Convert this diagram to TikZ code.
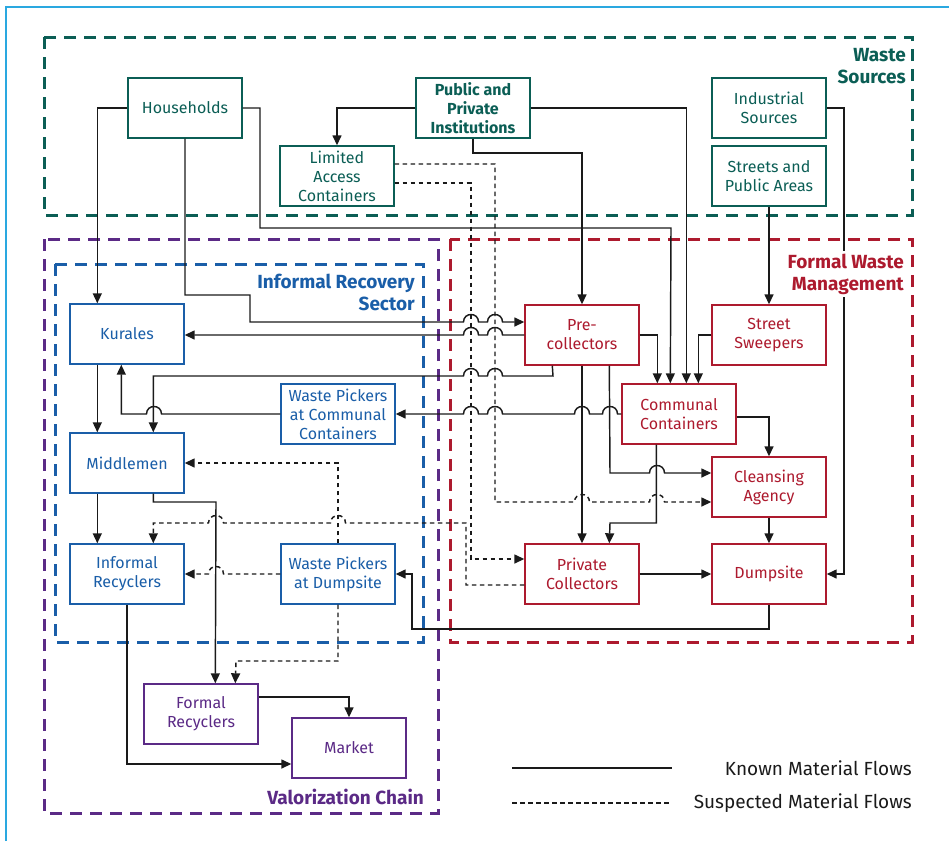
\documentclass[tikz,border=0pt]{standalone}
\usepackage{fontspec}
\setmainfont{Fira Sans}
\usetikzlibrary{arrows.meta,calc}
\definecolor{wteal}{HTML}{0B5E55}
\definecolor{wblue}{HTML}{1A5EA8}
\definecolor{wred}{HTML}{AD1A2E}
\definecolor{wpurple}{HTML}{5B2A86}
\definecolor{wframe}{HTML}{2AA8E0}
\definecolor{ink}{HTML}{1A1A1A}
\newcommand\boxfont{\fontsize{16}{19}\selectfont}
\newcommand\labfont{\bfseries\fontsize{19}{22}\selectfont}
\newcommand\legfont{\fontsize{19}{22}\selectfont}
% jumps over vertical lines: rightward (\jr) and leftward (\jl)
\newcommand\jr[2]{-- ({#1-7.5},#2) .. controls ({#1-7.5},{#2-10}) and ({#1+7.5},{#2-10}) .. ({#1+7.5},#2)}
\newcommand\jl[2]{-- ({#1+7.5},#2) .. controls ({#1+7.5},{#2-10}) and ({#1-7.5},{#2-10}) .. ({#1-7.5},#2)}
\tikzset{
  conn/.style={draw=ink, line width=1.45pt},
  arr/.style={conn, -{Triangle[length=10pt,width=9pt]}},
  sarr/.style={arr, dash pattern=on 4.5pt off 3.5pt},
  sconn/.style={conn, dash pattern=on 4.5pt off 3.5pt},
  region/.style={line width=3pt, dash pattern=on 12pt off 8pt},
  box/.style={draw, fill=white, line width=1.4pt, minimum width=114pt, minimum height=60pt, align=center, inner sep=1pt, font=\boxfont},
  tealbox/.style={box, draw=wteal, text=wteal},
  bluebox/.style={box, draw=wblue, text=wblue},
  redbox/.style={box, draw=wred, text=wred},
  purplebox/.style={box, draw=wpurple, text=wpurple},
  rlabel/.style={font=\labfont, align=right, inner sep=0pt},
}
\begin{document}
\begin{tikzpicture}[x=1pt,y=-1pt]
\useasboundingbox (0,0) rectangle (949,841);
% frame
\draw[wframe, line width=1.5pt] (6,841) -- (6,7) -- (949,7);
% regions
\draw[region, wteal] (44,37) rectangle (912,215);
\draw[region, wpurple] (44,239) rectangle (438,813);
\draw[region, wblue] (55,264) rectangle (423,642);
\draw[region, wred] (450,239) rectangle (912,642);

% nodes
\node[tealbox] (hh) at (185,108) {Households};
\node[tealbox, font=\boxfont\bfseries] (pub) at (473,108) {Public and\\Private\\Institutions};
\node[tealbox] (lim) at (337,176) {Limited\\Access\\Containers};
\node[tealbox] (ind) at (769,108) {Industrial\\Sources};
\node[tealbox] (str) at (769,176) {Streets and\\Public Areas};

\node[bluebox] (kur) at (127,334) {Kurales};
\node[bluebox] (mid) at (127,463) {Middlemen};
\node[bluebox] (wpc) at (338,414) {Waste Pickers\\at Communal\\Containers};
\node[bluebox] (irec) at (127,574) {Informal\\Recyclers};
\node[bluebox] (wpd) at (338,574) {Waste Pickers\\at Dumpsite};

\node[purplebox] (frec) at (201,714) {Formal\\Recyclers};
\node[purplebox] (mkt) at (349,748) {Market};

\node[redbox] (pre) at (582,335) {Pre-\\collectors};
\node[redbox] (sw) at (769,335) {Street\\Sweepers};
\node[redbox] (cc) at (679,414) {Communal\\Containers};
\node[redbox] (ca) at (769,487) {Cleansing\\Agency};
\node[redbox] (pc) at (582,574) {Private\\Collectors};
\node[redbox] (dump) at (769,574) {Dumpsite};

% connectors (known flows)
\draw[arr] (hh.west) -| ($(kur.north west)+(28,0)$);
\draw[arr] (hh.south) |- (250,295) -- (250,322) \jr{471}{322} \jr{495}{322} -- ($(pre.west)+(0,-13)$);
\draw[arr] (hh.east) -- (260,108) |- (671,228) -- ($(cc.north west)+(49,0)$);
\draw[arr] (pub.west) -| (lim.north);
\draw[arr] (pub.south) |- (582,153) -- (pre.north);
\draw[arr] (pub.east) -| ($(cc.north west)+(65,0)$);
\draw[arr] (ind.east) -- (844,108) |- (dump.east);
\draw[arr] (str.south) -- (sw.north);
\draw[arr] (pre.east) -| ($(cc.north west)+(36,0)$);
\draw[arr] (sw.west) -| ($(cc.north west)+(77,0)$);
\draw[arr] (pre.west) \jl{495}{335} \jl{471}{335} -- (kur.east |- pre.west);
\draw[arr] ($(pre.south west)+(28,0)$) -- (553,376) \jl{495}{376} \jl{471}{376} -| ($(mid.north west)+(84,0)$);
\draw[arr] (cc.west) \jl{610}{414} \jl{582}{414} \jl{495}{414} \jl{471}{414} -- (wpc.east);
\draw[arr] (wpc.west) \jl{154}{414} -| ($(kur.south west)+(52,0)$);
\draw[arr] (pre.south) -- (pc.north);
\draw[arr] ($(pre.south west)+(85,0)$) -- (610,473) \jr{657}{473} -- ($(ca.west)+(0,-14)$);
\draw[arr] ($(cc.south west)+(35,0)$) |- (610,523) -- ($(pc.north west)+(85,0)$);
\draw[arr] ($(cc.east)+(0,3)$) -| (ca.north);
\draw[arr] (ca.south) -- (dump.north);
\draw[arr] (pc.east) -- (dump.west);
\draw[arr] (dump.south) |- (412,629) |- (wpd.east);
\draw[arr] ($(kur.south west)+(28,0)$) -- ($(mid.north west)+(28,0)$);
\draw[arr] ($(mid.south west)+(28,0)$) -- ($(irec.north west)+(28,0)$);
\draw[arr] ($(mid.south west)+(84,0)$) |- (216,502) -- ($(frec.north west)+(72,0)$);
\draw[arr] (irec.south) |- ($(mkt.west)+(0,16)$);
\draw[arr] ($(frec.east)+(0,-17)$) -| (mkt.north);

% suspected flows
\draw[sarr] ($(lim.east)+(0,-12)$) -| (495,502) \jr{582}{502} \jr{657}{502} -- ($(ca.west)+(0,15)$);
\draw[sarr] ($(lim.east)+(0,7)$) -| (471,559) -- ($(pc.west)+(0,-15)$);
\draw[sarr] ($(pc.west)+(0,11)$) -- (466,585) -- (466,523) \jl{338}{523} \jl{216}{523} -| ($(irec.north west)+(84,0)$);
\draw[sarr] (wpd.north) |- (mid.east);
\draw[sarr] (wpd.west) \jl{216}{574} -- (irec.east);
\draw[sarr] (wpd.south) |- (236,661) -- ($(frec.north west)+(92,0)$);

% region labels
\node[rlabel, text=wteal, anchor=east] (lws) at (906,66) {Waste\\Sources};
\node[rlabel, text=wred, anchor=east, fill=white, inner sep=3pt] (lfw) at (907,274) {Formal Waste\\Management};
\node[rlabel, text=wblue, anchor=east] (lir) at (415,292) {Informal Recovery\\Sector};
\node[rlabel, text=wpurple, anchor=east] (lvc) at (424,797) {Valorization Chain};

% legend
\coordinate (k1) at (512,768);
\coordinate (k2) at (672,768);
\coordinate (s1) at (512,803);
\coordinate (s2) at (672,803);
\draw[conn] (k1) -- (k2);
\draw[sconn] (s1) -- (s2);
\node[font=\legfont, anchor=east, inner sep=0pt, text=ink] (kt) at (912,768) {Known Material Flows};
\node[font=\legfont, anchor=east, inner sep=0pt, text=ink] (st) at (912,803) {Suspected Material Flows};
\end{tikzpicture}
\end{document}
